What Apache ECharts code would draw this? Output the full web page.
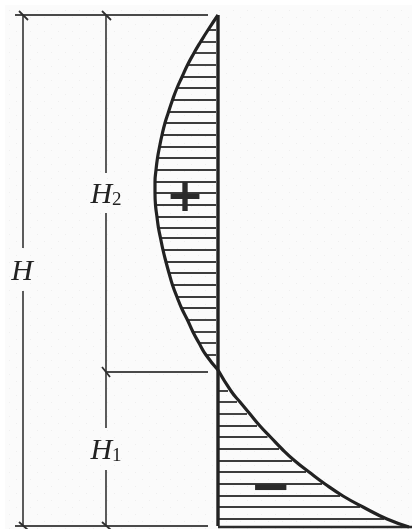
<!DOCTYPE html>
<html><head><meta charset="utf-8">
<style>html,body{margin:0;padding:0;background:#fff}#c{width:412px;height:529px;filter:blur(0.45px)}</style>
<script src="https://cdn.jsdelivr.net/npm/echarts@6/dist/echarts.min.js"></script>
</head><body><div id="c"></div>
<script>
// Height above the base and pressure (negative = left of the wall line)
const upperHeights = [511,496,484,473,461,449,438,426,414,403,391,379,368,356,344,333,321,309,298,288,276,264,253,241,229,218,206,194,183,171,156];
const upperPressure = [0,-10,-17.5,-24,-30.5,-36,-41,-45.5,-49.5,-53,-56,-58.5,-60.5,-62,-63,-63,-62.5,-61,-59.5,-57.5,-55,-52,-49,-45.5,-41,-36.5,-30.5,-25,-19,-12,0];
const lowerHeights = [135,124,112,100,89,77,65,54,42,30,19,7,-1];
const lowerPressure = [13,22,32,42,52.5,64,77,91,107,125,145,169,191];
const hatchHeightsLower = [135,124,112,100,89,77,65,54,42,30,19,7];
// Dimension lines: [pressureFrom, heightFrom, pressureTo, heightTo]
const dimensionLines = [
  [-203,511,-10,511],[-112,154,-10,154],[-203,0,-10,0],[-195,511,-195,278],[-195,235,-195,0],
  [-112,511,-112,353],[-112,313,-112,98],[-112,56,-112,0]
];
const tickMarks = [
  [-199,515,-190,506],[-116,515,-107,506],[-116,159,-108,149],[-199,4,-190,-4],[-116,4,-107,-4]
];
const wallLine = [0,511,0,0];
const baseLine = [0,-1,194,-1];
const labelNames = [['H',''],['H','2'],['H','1']];
const labelPositions = [[-196,254],[-112,331],[-112,75]];
const signTexts = ['+','\u2212'];
const signPositions = [[-33,327],[53,36]];
const signSizes = [46,50];

const hatchSegments = upperHeights.slice(1,-1).map((h,i)=>[upperPressure[i+1],h,-2,h])
  .concat(hatchHeightsLower.map((h,i)=>[0,h,lowerPressure[i]-3,h]));

function segSeries(data,color,width,cap,z){
  return {type:'custom',coordinateSystem:'cartesian2d',z:z,silent:true,
    data:data,encode:{x:[0,2],y:[1,3]},clip:false,
    renderItem:(p,api)=>{
      const a=api.coord([api.value(0),api.value(1)]),b=api.coord([api.value(2),api.value(3)]);
      return {type:'line',shape:{x1:a[0],y1:a[1],x2:b[0],y2:b[1]},
        style:{stroke:color,lineWidth:width,lineCap:cap}};
    }};
}
function curve(hs,ps){
  return {type:'line',data:ps.map((p,i)=>[p,hs[i]]),showSymbol:false,smooth:0.5,z:6,silent:true,clip:false,
    lineStyle:{color:'#222',width:3.2}};
}
const tex=document.createElement('canvas');tex.width=14;tex.height=14;
const t=tex.getContext('2d');t.fillStyle='#fbfbfb';t.fillRect(0,0,14,14);
t.fillStyle='#efefef';t.fillRect(2,3,1,1);t.fillRect(9,10,1,1);

const chart=echarts.init(document.getElementById('c'),null,{renderer:'canvas'});
chart.setOption({
  animation:false,backgroundColor:'#fff',
  grid:{left:0,right:0,top:0,bottom:0},
  xAxis:{type:'value',min:-218,max:194,show:false},
  yAxis:{type:'value',min:-3,max:526,show:false},
  graphic:[{type:'rect',z:-10,shape:{x:5,y:5,width:407,height:524},style:{fill:{image:tex,repeat:'repeat'}},silent:true}],
  series:[
    segSeries(hatchSegments,'#3c3c3c',1.9,'butt',2),
    segSeries(dimensionLines,'#4a4a4a',1.8,'butt',3),
    segSeries(tickMarks,'#2e2e2e',1.8,'butt',3),
    segSeries([wallLine],'#222',3.4,'butt',5),
    segSeries([baseLine],'#2a2a2a',2.4,'butt',5),
    curve(upperHeights,upperPressure),
    curve([156].concat(lowerHeights),[0].concat(lowerPressure)),
    {type:'scatter',symbolSize:0,z:8,silent:true,itemStyle:{opacity:1},data:labelPositions.map((p,i)=>({value:p,
      label:{show:true,position:'inside',opacity:1,formatter:'{i|'+labelNames[i][0]+'}'+(labelNames[i][1]?'{s|'+labelNames[i][1]+'}':''),
      rich:{i:{fontFamily:'Liberation Serif',fontStyle:'italic',fontSize:30,color:'#222'},
            s:{fontFamily:'Liberation Serif',fontSize:19,color:'#222',verticalAlign:'bottom'}}}}))},
    {type:'scatter',symbolSize:0,z:8,silent:true,itemStyle:{opacity:1},data:signPositions.map((p,i)=>({value:p,
      label:{show:true,position:'inside',opacity:1,formatter:signTexts[i],fontFamily:'DejaVu Sans',fontWeight:'bold',fontSize:signSizes[i],color:'#2a2a2a'}}))}
  ]
});
</script></body></html>
